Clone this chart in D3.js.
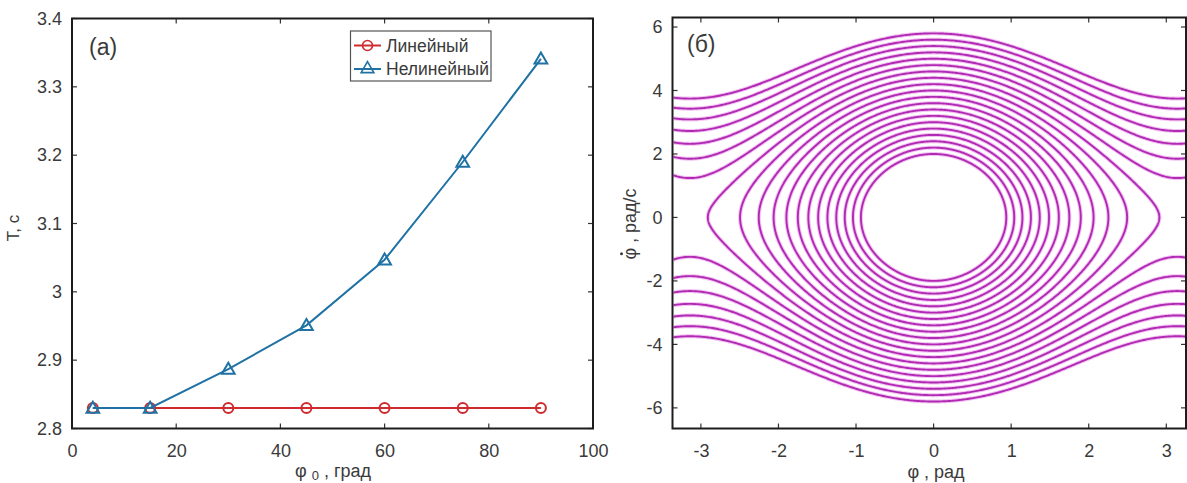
<!DOCTYPE html>
<html>
<head>
<meta charset="utf-8">
<script src="https://cdn.jsdelivr.net/npm/d3@7"></script>
<style>
  body { margin: 0; background: #fff; }
  svg { display: block; }
  text { font-family: "Liberation Sans", Arial, sans-serif; fill: #3a3a3a; }
</style>
</head>
<body>
<svg id="chart" width="1187" height="483"></svg>
<script>
// Panel (a): oscillation period against initial amplitude
const amplitudesDeg = [4, 15, 30, 45, 60, 75, 90];
const periodLinear = [2.83, 2.83, 2.83, 2.83, 2.83, 2.83, 2.83];
const periodNonlinear = [2.83, 2.83, 2.887, 2.951, 3.047, 3.19, 3.341];
const seriesNames = ["Линейный", "Нелинейный"];
const amplitudeTicks = [0, 20, 40, 60, 80, 100];
const periodTicks = [2.8, 2.9, 3, 3.1, 3.2, 3.3, 3.4];

// Panel (б): phase trajectories of the pendulum, one per angular rate at φ = 0
const omegaSquared = 4.905; // g / l, l = 2 m
const rateAtZero = [2.0, 2.2, 2.4, 2.6, 2.8, 3.0, 3.2, 3.4, 3.6, 3.8, 4.0, 4.2, 4.4,
                    4.6, 4.8, 5.0, 5.2, 5.4, 5.6, 5.8];
const angleTicks = [-3, -2, -1, 0, 1, 2, 3];
const rateTicks = [-6, -4, -2, 0, 2, 4, 6];

const svg = d3.select("#chart");
const RED = "#cf2a2e", BLUE = "#1f72a3", MAGENTA = "#b12ab3";

// ---------- helpers ----------
function frame(g, x, y, opts) {
  const [x0, x1] = x.range(), [y0, y1] = y.range();
  const tickLen = 5;
  // inward ticks on all four sides
  const xt = g.append("g").attr("class", "ticks");
  opts.xTicks.forEach(v => {
    const px = x(v);
    if (px < x0 - 0.5 || px > x1 + 0.5) return;
    xt.append("line").attr("x1", px).attr("x2", px).attr("y1", y0).attr("y2", y0 - tickLen);
    xt.append("line").attr("x1", px).attr("x2", px).attr("y1", y1).attr("y2", y1 + tickLen);
  });
  opts.yTicks.forEach(v => {
    const py = y(v);
    xt.append("line").attr("x1", x0).attr("x2", x0 + tickLen).attr("y1", py).attr("y2", py);
    xt.append("line").attr("x1", x1).attr("x2", x1 - tickLen).attr("y1", py).attr("y2", py);
  });
  xt.selectAll("line").attr("stroke", "#333").attr("stroke-width", 1.2);

  // tick labels through d3 axes
  const ax = g.append("g").attr("transform", `translate(0,${y0})`)
    .call(d3.axisBottom(x).tickValues(opts.xTicks).tickFormat(opts.xFormat || d3.format("")).tickSize(0).tickPadding(opts.xPad));
  const ay = g.append("g").attr("transform", `translate(${x0},0)`)
    .call(d3.axisLeft(y).tickValues(opts.yTicks).tickFormat(opts.yFormat || d3.format("")).tickSize(0).tickPadding(opts.yPad));
  [ax, ay].forEach(a => {
    a.select(".domain").remove();
    a.selectAll("text").attr("font-size", 18).attr("fill", "#3a3a3a")
      .attr("font-family", '"Liberation Sans", Arial, sans-serif');
  });

  // box
  g.append("rect").attr("x", x0).attr("y", y1).attr("width", x1 - x0).attr("height", y0 - y1)
    .attr("fill", "none").attr("stroke", "#1c1c1c").attr("stroke-width", 2);
}

function minus(v) { return d3.format("")(v).replace("−", "-"); }

// ---------- panel (a) ----------
const xA = d3.scaleLinear().domain([0, 100]).range([72, 593]);
const yA = d3.scaleLinear().domain([2.8, 3.4]).range([428.5, 18.5]);
const gA = svg.append("g");

const lineA = d3.line().x((d, i) => xA(amplitudesDeg[i])).y(d => yA(d));
const tri = d3.symbol().type(d3.symbolTriangle).size(70);

function drawSeries(values, color, marker) {
  gA.append("path").datum(values).attr("d", lineA)
    .attr("fill", "none").attr("stroke", color).attr("stroke-width", 2);
  const m = gA.append("g");
  values.forEach((v, i) => {
    if (marker === "circle") {
      m.append("circle").attr("cx", xA(amplitudesDeg[i])).attr("cy", yA(v)).attr("r", 5)
        .attr("fill", "none").attr("stroke", color).attr("stroke-width", 2);
    } else {
      m.append("path").attr("d", tri).attr("transform", `translate(${xA(amplitudesDeg[i])},${yA(v) + 1})`)
        .attr("fill", "none").attr("stroke", color).attr("stroke-width", 2);
    }
  });
}
drawSeries(periodLinear, RED, "circle");
drawSeries(periodNonlinear, BLUE, "triangle");

frame(gA, xA, yA, { xTicks: amplitudeTicks, yTicks: periodTicks, xPad: 16, yPad: 10,
                    yFormat: d => d3.format("")(d) });

// axis titles
gA.append("text").attr("transform", "translate(19,228) rotate(-90)").attr("text-anchor", "middle")
  .attr("font-size", 17).text("T, c");
const xtA = gA.append("text").attr("x", 333).attr("y", 477).attr("text-anchor", "middle").attr("font-size", 18);
xtA.append("tspan").text("φ ");
xtA.append("tspan").attr("font-size", 13).attr("dy", 3).text("0");
xtA.append("tspan").attr("dy", -3).text(" , град");

gA.append("text").attr("x", 89).attr("y", 55)
  .attr("font-family", '"Liberation Serif", "Times New Roman", serif').attr("font-size", 23)
  .attr("fill", "#222").text("(a)");

// legend
const lg = gA.append("g");
lg.append("rect").attr("x", 350.5).attr("y", 31).attr("width", 140.5).attr("height", 50)
  .attr("fill", "#fff").attr("stroke", "#555").attr("stroke-width", 1.2);
[[RED, "circle"], [BLUE, "triangle"]].forEach(([c, mk], i) => {
  const cy = 45.5 + i * 23.5;
  lg.append("line").attr("x1", 354).attr("x2", 381).attr("y1", cy).attr("y2", cy)
    .attr("stroke", c).attr("stroke-width", 2);
  if (mk === "circle") {
    lg.append("circle").attr("cx", 367.5).attr("cy", cy).attr("r", 5)
      .attr("fill", "none").attr("stroke", c).attr("stroke-width", 1.6);
  } else {
    lg.append("path").attr("d", tri).attr("transform", `translate(367.5,${cy})`)
      .attr("fill", "none").attr("stroke", c).attr("stroke-width", 1.6);
  }
  lg.append("text").attr("x", 386).attr("y", cy + 6).attr("font-size", 17.5).attr("fill", "#222")
    .text(seriesNames[i]);
});

// ---------- panel (б) ----------
const xB = d3.scaleLinear().domain([-3.366, 3.254]).range([672.5, 1186]);
const yB = d3.scaleLinear().domain([-6.65, 6.3]).range([428.5, 17.5]);
const gB = svg.append("g");

svg.append("defs").append("clipPath").attr("id", "clipB")
  .append("rect").attr("x", 673.5).attr("y", 18.5).attr("width", 512).attr("height", 409);

const curves = gB.append("g").attr("clip-path", "url(#clipB)");
const lineB = d3.line().x(d => xB(d[0])).y(d => yB(d[1]));

// energy conservation: φ̇² = v0² − 2ω²(1 − cos φ)
function rate(v0, phi) {
  const s = v0 * v0 - 2 * omegaSquared * (1 - Math.cos(phi));
  return s > 0 ? Math.sqrt(s) : 0;
}
const trajectories = [];
const phiLo = -3.5, phiHi = 3.5, N = 400;
rateAtZero.forEach(v0 => {
  const c = 1 - v0 * v0 / (2 * omegaSquared);
  if (c > -1) {
    // closed orbit (libration)
    const phiMax = Math.acos(c);
    const upper = d3.range(N + 1).map(k => {
      const p = phiMax * Math.sin(-Math.PI / 2 + Math.PI * k / N);
      return [p, rate(v0, p)];
    });
    const lower = upper.slice().reverse().map(([p, v]) => [p, -v]);
    trajectories.push(upper.concat(lower));
  } else {
    // open trajectory (rotation), both directions
    const top = d3.range(N + 1).map(k => {
      const p = phiLo + (phiHi - phiLo) * k / N;
      return [p, rate(v0, p)];
    });
    trajectories.push(top);
    trajectories.push(top.map(([p, v]) => [p, -v]));
  }
});
// soft halo under each trajectory
curves.selectAll("path.halo").data(trajectories).join("path").attr("class", "halo")
  .attr("d", lineB).attr("fill", "none").attr("stroke", "#e27ae2").attr("stroke-opacity", 0.45)
  .attr("stroke-width", 4);
curves.selectAll("path.traj").data(trajectories).join("path").attr("class", "traj")
  .attr("d", lineB).attr("fill", "none").attr("stroke", MAGENTA).attr("stroke-width", 1.9);

frame(gB, xB, yB, { xTicks: angleTicks, yTicks: rateTicks, xPad: 16, yPad: 10,
                    xFormat: minus, yFormat: minus });

// y title: φ with a dot above it (time derivative)
const yTitle = gB.append("g").attr("transform", "translate(636,224) rotate(-90)");
const yTitleText = yTitle.append("text").attr("text-anchor", "middle").attr("font-size", 18)
  .text("φ , рад/с");
const phiBox = yTitleText.node().getExtentOfChar(0);
yTitle.append("circle").attr("cx", phiBox.x + phiBox.width / 2).attr("cy", phiBox.y + 1.5)
  .attr("r", 1.5).attr("fill", "#3a3a3a");

gB.append("text").attr("x", 936).attr("y", 478).attr("text-anchor", "middle")
  .attr("font-size", 18).text("φ , рад");

gB.append("text").attr("x", 687).attr("y", 52)
  .attr("font-family", '"Liberation Serif", "Times New Roman", serif').attr("font-size", 23)
  .attr("fill", "#222").text("(б)");
</script>
</body>
</html>
